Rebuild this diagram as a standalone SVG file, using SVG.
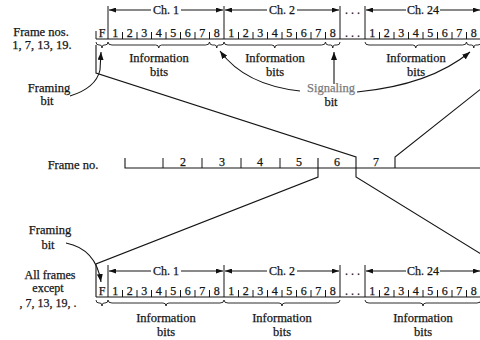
<svg xmlns="http://www.w3.org/2000/svg" width="480" height="340" viewBox="0 0 480 340">
<defs>
<marker id="ah" markerUnits="userSpaceOnUse" markerWidth="8" markerHeight="6" refX="8" refY="3" orient="auto"><path d="M0,0 L8,3 L0,6 z" fill="#111"/></marker>
<marker id="ch" markerUnits="userSpaceOnUse" markerWidth="7" markerHeight="5" refX="7" refY="2.5" orient="auto"><path d="M0,0 L7,2.5 L0,5 z" fill="#111"/></marker>
<style>
text{font-family:"Liberation Serif","Times New Roman",serif;fill:#151515;stroke:#151515;stroke-width:0.25}
.lb{font-size:12.5px}
.sm{font-size:12px}
.d{font-size:12px;text-anchor:middle}
.c{font-size:12px;text-anchor:middle}
.m{text-anchor:middle}
.g{fill:#7a7a7a;stroke:#7a7a7a}
.ln{fill:none;stroke:#151515;stroke-width:1.1}
.tk{fill:none;stroke:#151515;stroke-width:1}
.br{fill:none;stroke:#151515;stroke-width:0.9}
.ar{fill:none;stroke:#151515;stroke-width:1.1}
</style>
</defs>

<g id="labels-left">
<text class="lb m" x="41" y="36">Frame nos.</text>
<text class="lb m" x="42" y="49">1, 7, 13, 19.</text>
<text class="lb m" x="49" y="92">Framing</text>
<text class="lb m" x="47" y="105">bit</text>
<text class="lb m" x="73" y="169">Frame no.</text>
<text class="lb m" x="50" y="234">Framing</text>
<text class="lb m" x="48" y="249">bit</text>
<text class="sm m" x="50" y="279">All frames</text>
<text class="sm m" x="48" y="292">except</text>
<text class="sm m" x="48" y="307">, 7, 13, 19, .</text>
</g>

<g id="frame-top">
<path class="ln" d="M96,39 H481"/>
<path class="tk" d="M96,31 V39 M108,6 V39 M224,6 V39 M340,6 V39 M365,6 V39"/>
<path class="tk" d="M122.5,32 V39 M137,32 V39 M151.5,32 V39 M166,32 V39 M180.5,32 V39 M195,32 V39 M209.5,32 V39 M238.5,32 V39 M253,32 V39 M267.5,32 V39 M282,32 V39 M296.5,32 V39 M311,32 V39 M325.5,32 V39 M379.5,32 V39 M394,32 V39 M408.5,32 V39 M423,32 V39 M437.5,32 V39 M452,32 V39 M466.5,32 V39"/>
<text class="d" x="102" y="36.5">F</text>
<text class="d" x="115.25" y="36.5">1</text><text class="d" x="129.75" y="36.5">2</text><text class="d" x="144.25" y="36.5">3</text><text class="d" x="158.75" y="36.5">4</text><text class="d" x="173.25" y="36.5">5</text><text class="d" x="187.75" y="36.5">6</text><text class="d" x="202.25" y="36.5">7</text><text class="d" x="216.75" y="36.5">8</text>
<text class="d" x="231.25" y="36.5">1</text><text class="d" x="245.75" y="36.5">2</text><text class="d" x="260.25" y="36.5">3</text><text class="d" x="274.75" y="36.5">4</text><text class="d" x="289.25" y="36.5">5</text><text class="d" x="303.75" y="36.5">6</text><text class="d" x="318.25" y="36.5">7</text><text class="d" x="332.75" y="36.5">8</text>
<text class="d" x="352.5" y="36.5">. . .</text>
<text class="d" x="372.25" y="36.5">1</text><text class="d" x="386.75" y="36.5">2</text><text class="d" x="401.25" y="36.5">3</text><text class="d" x="415.75" y="36.5">4</text><text class="d" x="430.25" y="36.5">5</text><text class="d" x="444.75" y="36.5">6</text><text class="d" x="459.25" y="36.5">7</text><text class="d" x="473.75" y="36.5">8</text>
<path class="ar" d="M151,10 H109" marker-end="url(#ch)"/><path class="ar" d="M181,10 H223" marker-end="url(#ch)"/>
<text class="c" x="166" y="14">Ch. 1</text>
<path class="ar" d="M267,10 H225" marker-end="url(#ch)"/><path class="ar" d="M297,10 H339" marker-end="url(#ch)"/>
<text class="c" x="282" y="14">Ch. 2</text>
<text class="d" x="352.5" y="14">. . .</text>
<path class="ar" d="M406,10 H366" marker-end="url(#ch)"/><path class="ar" d="M440,10 H480" marker-end="url(#ch)"/>
<text class="c" x="423" y="14">Ch. 24</text>
<path class="br" d="M96,42 q0,3 3,3 H100 q2,0 2,3 q0,-3 2,-3 H105 q3,0 3,-3"/>
<path class="br" d="M108,42 q0,3 4,3 H155.75 q3,0 3,3 q0,-3 3,-3 H205.5 q4,0 4,-3"/>
<path class="br" d="M209.5,42 q0,3 3,3 H214.75 q2,0 2,3 q0,-3 2,-3 H221 q3,0 3,-3"/>
<path class="br" d="M224,42 q0,3 4,3 H271.75 q3,0 3,3 q0,-3 3,-3 H321.5 q4,0 4,-3"/>
<path class="br" d="M325.5,42 q0,3 3,3 H330.75 q2,0 2,3 q0,-3 2,-3 H337 q3,0 3,-3"/>
<path class="br" d="M365,42 q0,3 4,3 H412.75 q3,0 3,3 q0,-3 3,-3 H462.5 q4,0 4,-3"/>
<path class="br" d="M466.5,42 q0,3 3,3 H471.75 q2,0 2,3 q0,-3 2,-3 H478 q3,0 3,-3"/>
<text class="lb m" x="159" y="62">Information</text><text class="lb m" x="159" y="76">bits</text>
<text class="lb m" x="275" y="62">Information</text><text class="lb m" x="275" y="76">bits</text>
<text class="lb m" x="416" y="62">Information</text><text class="lb m" x="416" y="76">bits</text>
<text class="lb m g" x="331" y="92">Signaling</text>
<text class="lb m" x="331" y="106">bit</text>
</g>

<g id="frame-axis">
<path class="ln" d="M125,158 V168 H481"/>
<path class="tk" d="M163,158 V168 M202,158 V168 M241,158 V168 M280,158 V168"/>
<text class="d" x="183" y="166">2</text><text class="d" x="222" y="166">3</text><text class="d" x="260" y="166">4</text><text class="d" x="299" y="166">5</text><text class="d" x="337" y="166">6</text><text class="d" x="376" y="166">7</text>
</g>

<g id="frame-bottom">
<path class="ln" d="M96,297 H481"/>
<path class="tk" d="M108,265 V297 M224,265 V297 M340,265 V297 M365,265 V297"/>
<path class="tk" d="M122.5,290 V297 M137,290 V297 M151.5,290 V297 M166,290 V297 M180.5,290 V297 M195,290 V297 M209.5,290 V297 M238.5,290 V297 M253,290 V297 M267.5,290 V297 M282,290 V297 M296.5,290 V297 M311,290 V297 M325.5,290 V297 M379.5,290 V297 M394,290 V297 M408.5,290 V297 M423,290 V297 M437.5,290 V297 M452,290 V297 M466.5,290 V297"/>
<text class="d" x="102" y="294.5">F</text>
<text class="d" x="115.25" y="294.5">1</text><text class="d" x="129.75" y="294.5">2</text><text class="d" x="144.25" y="294.5">3</text><text class="d" x="158.75" y="294.5">4</text><text class="d" x="173.25" y="294.5">5</text><text class="d" x="187.75" y="294.5">6</text><text class="d" x="202.25" y="294.5">7</text><text class="d" x="216.75" y="294.5">8</text>
<text class="d" x="231.25" y="294.5">1</text><text class="d" x="245.75" y="294.5">2</text><text class="d" x="260.25" y="294.5">3</text><text class="d" x="274.75" y="294.5">4</text><text class="d" x="289.25" y="294.5">5</text><text class="d" x="303.75" y="294.5">6</text><text class="d" x="318.25" y="294.5">7</text><text class="d" x="332.75" y="294.5">8</text>
<text class="d" x="352.5" y="294.5">. . .</text>
<text class="d" x="372.25" y="294.5">1</text><text class="d" x="386.75" y="294.5">2</text><text class="d" x="401.25" y="294.5">3</text><text class="d" x="415.75" y="294.5">4</text><text class="d" x="430.25" y="294.5">5</text><text class="d" x="444.75" y="294.5">6</text><text class="d" x="459.25" y="294.5">7</text><text class="d" x="473.75" y="294.5">8</text>
<path class="ar" d="M151,271 H109" marker-end="url(#ch)"/><path class="ar" d="M181,271 H223" marker-end="url(#ch)"/>
<text class="c" x="166" y="275">Ch. 1</text>
<path class="ar" d="M267,271 H225" marker-end="url(#ch)"/><path class="ar" d="M297,271 H339" marker-end="url(#ch)"/>
<text class="c" x="282" y="275">Ch. 2</text>
<text class="d" x="352.5" y="275">. . .</text>
<path class="ar" d="M406,271 H366" marker-end="url(#ch)"/><path class="ar" d="M440,271 H480" marker-end="url(#ch)"/>
<text class="c" x="423" y="275">Ch. 24</text>
<path class="br" d="M96,300 q0,3 3,3 H100 q2,0 2,3 q0,-3 2,-3 H105 q3,0 3,-3"/>
<path class="br" d="M108,300 q0,3 4,3 H163 q3,0 3,3 q0,-3 3,-3 H220 q4,0 4,-3"/>
<path class="br" d="M224,300 q0,3 4,3 H279 q3,0 3,3 q0,-3 3,-3 H336 q4,0 4,-3"/>
<path class="br" d="M365,300 q0,3 4,3 H420 q3,0 3,3 q0,-3 3,-3 H477 q4,0 4,-3"/>
<text class="lb m" x="166" y="322">Information</text><text class="lb m" x="166" y="336">bits</text>
<text class="lb m" x="282" y="322">Information</text><text class="lb m" x="282" y="336">bits</text>
<text class="lb m" x="423" y="322">Information</text><text class="lb m" x="423" y="336">bits</text>
</g>

<g id="connectors">
<path class="ln" d="M96,45 V73 L356,157 V177 L481,254"/>
<path class="ln" d="M395,168 V157 L482,88"/>
<path class="ln" d="M318,158 V177 L96,264 V297"/>
<path class="ar" d="M70,96 Q96,88 100,70 L101,52" marker-end="url(#ah)"/>
<path class="ar" d="M66,243 Q96,249 101,282" marker-end="url(#ah)"/>
<path class="ar" d="M300,91 Q245,85 220,51" marker-end="url(#ah)"/>
<path class="ar" d="M334,84 V52" marker-end="url(#ah)"/>
<path class="ar" d="M357,92 Q430,85 470,52" marker-end="url(#ah)"/>
</g>
</svg>
